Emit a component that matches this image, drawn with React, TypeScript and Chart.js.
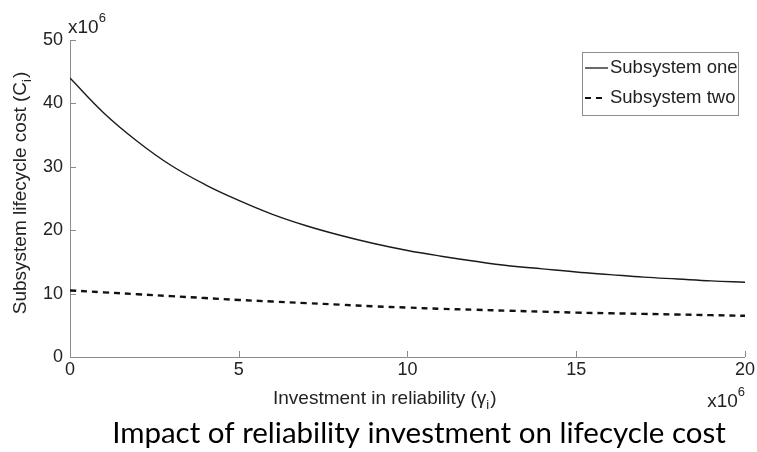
import React, { useEffect, useRef } from "react";
import { Chart, registerables } from "chart.js";

Chart.register(...registerables);

// Data (in units of 10^6)
const investment = [0, 1, 2, 3, 4, 5, 6, 7, 8, 9, 10, 11, 12, 13, 14, 15, 16, 17, 18, 19, 20];
const subsystemOne = [44.0, 38.5, 34.0, 30.2, 27.2, 24.7, 22.5, 20.7, 19.2, 17.9, 16.8, 15.9, 15.1, 14.4, 13.9, 13.4, 13.0, 12.6, 12.3, 12.0, 11.8];
const subsystemTwo = [10.5, 10.2, 9.9, 9.6, 9.3, 9.0, 8.75, 8.5, 8.25, 8.0, 7.8, 7.6, 7.45, 7.3, 7.15, 7.0, 6.9, 6.8, 6.7, 6.6, 6.5];
const seriesNames = ["Subsystem one", "Subsystem two"];
const xTickStep = 5;
const yTickStep = 10;
const xMax = 20;
const yMax = 50;
const xTitleMain = "Investment in reliability (γ";
const yTitleMain = "Subsystem lifecycle cost (C";
const titleSub = "i";
const titleClose = ")";
const caption = "Impact of reliability investment on lifecycle cost";
const multiplierBase = "x10";
const multiplierExp = "6";

const FONT = "'Liberation Sans', Arial, Helvetica, sans-serif";
const CAPTION_FONT = "Lato, 'Open Sans', sans-serif";
const AXIS_GRAY = "#8c8c8c";
const TEXT = "#222";

function drawSubscripted(ctx: any, x: number, y: number, main: string, sub: string, close: string) {
  ctx.font = `19px ${FONT}`;
  ctx.fillText(main, x, y);
  let w = ctx.measureText(main).width;
  ctx.font = `13px ${FONT}`;
  ctx.fillText(sub, x + w, y + 5);
  w += ctx.measureText(sub).width + 1;
  ctx.font = `19px ${FONT}`;
  ctx.fillText(close, x + w, y);
}

function subscriptedWidth(ctx: any, main: string, sub: string, close: string) {
  ctx.font = `19px ${FONT}`;
  let w = ctx.measureText(main).width + ctx.measureText(close).width;
  ctx.font = `13px ${FONT}`;
  w += ctx.measureText(sub).width + 1;
  return w;
}

const decorPlugin = {
  id: "decor",
  afterDraw(chart: any) {
    const ctx = chart.ctx;
    const xs = chart.scales.x;
    const ys = chart.scales.y;
    const area = chart.chartArea;
    ctx.save();
    // inward tick marks
    ctx.strokeStyle = AXIS_GRAY;
    ctx.lineWidth = 1;
    xs.ticks.forEach((t: any) => {
      const px = Math.round(xs.getPixelForValue(t.value)) + 0.5;
      ctx.beginPath();
      ctx.moveTo(px, area.bottom);
      ctx.lineTo(px, area.bottom - 6);
      ctx.stroke();
    });
    ys.ticks.forEach((t: any) => {
      const py = Math.round(ys.getPixelForValue(t.value)) + 0.5;
      ctx.beginPath();
      ctx.moveTo(area.left, py);
      ctx.lineTo(area.left + 6, py);
      ctx.stroke();
    });

    ctx.fillStyle = TEXT;
    ctx.textBaseline = "alphabetic";
    ctx.textAlign = "left";

    // x axis title
    drawSubscripted(ctx, 273, 404, xTitleMain, titleSub, titleClose);

    // y axis title (rotated)
    const yw = subscriptedWidth(ctx, yTitleMain, titleSub, titleClose);
    ctx.save();
    ctx.translate(26, 193);
    ctx.rotate(-Math.PI / 2);
    drawSubscripted(ctx, -yw / 2, 0, yTitleMain, titleSub, titleClose);
    ctx.restore();

    // multipliers
    ctx.font = `19px ${FONT}`;
    const topX = area.left - 2;
    const topY = area.top - 7;
    ctx.fillText(multiplierBase, topX, topY);
    const w1 = ctx.measureText(multiplierBase).width;
    ctx.font = `13px ${FONT}`;
    ctx.fillText(multiplierExp, topX + w1, topY - 11);

    ctx.font = `19px ${FONT}`;
    const w2 = ctx.measureText(multiplierBase).width;
    ctx.font = `13px ${FONT}`;
    const w3 = ctx.measureText(multiplierExp).width;
    const brX = area.right - w2 - w3;
    const brY = area.bottom + 50;
    ctx.font = `19px ${FONT}`;
    ctx.fillText(multiplierBase, brX, brY);
    ctx.font = `13px ${FONT}`;
    ctx.fillText(multiplierExp, brX + w2, brY - 11);

    // caption
    ctx.fillStyle = "#000";
    ctx.font = `29.5px ${CAPTION_FONT}`;
    ctx.textAlign = "center";
    ctx.fillText(caption, 419, 443);
    ctx.textAlign = "left";

    // legend box
    const boxRight = area.right - 7;
    const boxTop = area.top + 12;
    const boxW = 156;
    const boxH = 63;
    const boxLeft = boxRight - boxW;
    ctx.fillStyle = "#fff";
    ctx.fillRect(boxLeft, boxTop, boxW, boxH);
    ctx.strokeStyle = AXIS_GRAY;
    ctx.lineWidth = 1;
    ctx.strokeRect(Math.round(boxLeft) + 0.5, Math.round(boxTop) + 0.5, boxW, boxH);
    const ds = chart.data.datasets;
    ds.forEach((d: any, i: number) => {
      const cy = boxTop + 16 + i * 30;
      ctx.strokeStyle = d.borderColor;
      ctx.lineWidth = i === 0 ? 1.3 : 2;
      ctx.setLineDash(i === 0 ? [] : [6, 5]);
      ctx.beginPath();
      ctx.moveTo(boxLeft + 3, cy);
      ctx.lineTo(boxLeft + (i === 0 ? 26 : 20), cy);
      ctx.stroke();
      ctx.setLineDash([]);
      ctx.fillStyle = TEXT;
      ctx.font = `18.5px ${FONT}`;
      ctx.textBaseline = "middle";
      ctx.fillText(d.label, boxLeft + 28, cy);
    });
    ctx.restore();
  },
};

export default function App() {
  const ref = useRef<HTMLCanvasElement | null>(null);
  useEffect(() => {
    document.body.style.margin = "0";
    if (!ref.current) return;
    const chart = new Chart(ref.current, {
      type: "line",
      data: {
        datasets: [
          {
            label: seriesNames[0],
            data: investment.map((x, i) => ({ x, y: subsystemOne[i] })),
            borderColor: "#1a1a1a",
            borderWidth: 1.4,
            pointRadius: 0,
            tension: 0.4,
            fill: false,
          },
          {
            label: seriesNames[1],
            data: investment.map((x, i) => ({ x, y: subsystemTwo[i] })),
            borderColor: "#111",
            borderWidth: 2.4,
            borderDash: [6, 5],
            pointRadius: 0,
            tension: 0.4,
            fill: false,
          },
        ],
      },
      options: {
        animation: false,
        responsive: false,
        layout: { padding: { left: 0, right: 11, top: 40, bottom: 0 } },
        plugins: {
          legend: { display: false },
          tooltip: { enabled: false },
          title: { display: false },
        },
        scales: {
          x: {
            type: "linear",
            min: 0,
            max: xMax,
            ticks: { stepSize: xTickStep, color: TEXT, font: { family: FONT, size: 18 }, padding: 2, maxRotation: 0 },
            grid: { drawOnChartArea: false, drawTicks: false },
            border: { color: AXIS_GRAY },
            afterFit: (s: any) => { s.height = 95; },
          },
          y: {
            min: 0,
            max: yMax,
            ticks: { stepSize: yTickStep, color: TEXT, font: { family: FONT, size: 18 }, padding: 7 },
            grid: { drawOnChartArea: false, drawTicks: false },
            border: { color: AXIS_GRAY },
            afterFit: (s: any) => { s.width = 70; },
          },
        },
      },
      plugins: [decorPlugin],
    });
    return () => chart.destroy();
  }, []);
  return <canvas ref={ref} width={757} height={452} style={{ display: "block" }} />;
}
